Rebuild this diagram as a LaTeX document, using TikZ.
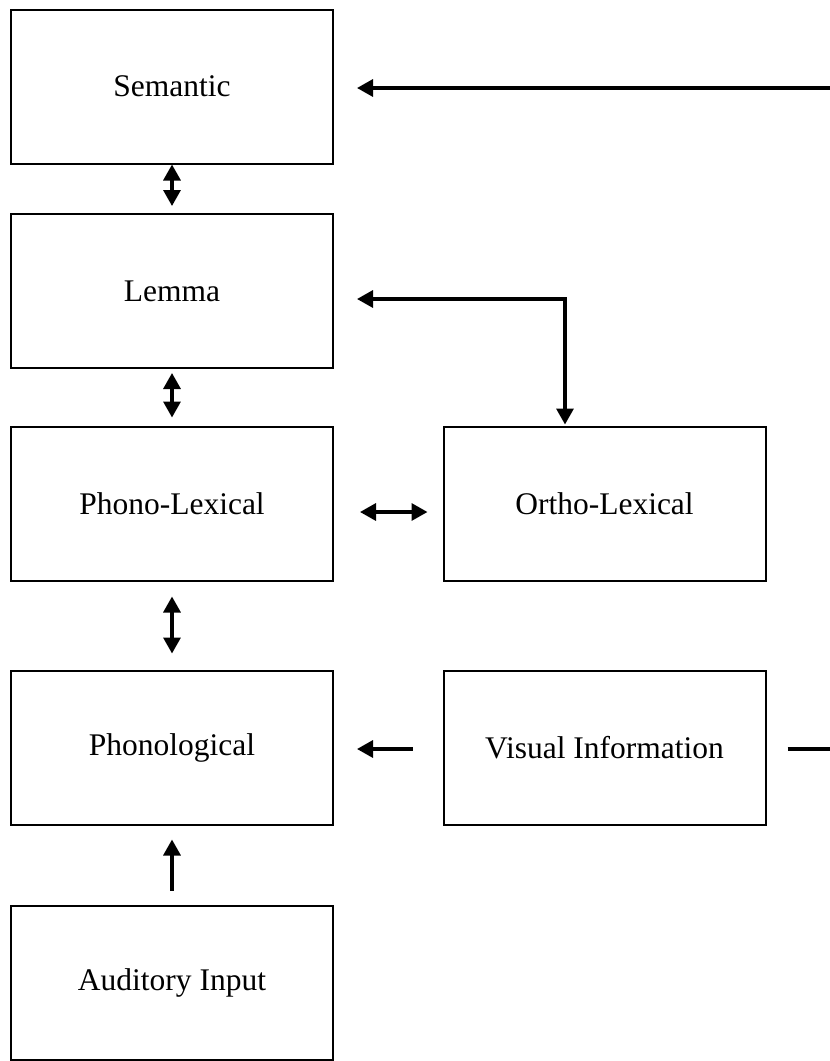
\documentclass[tikz,border=0pt]{standalone}
\usepackage{fontspec}
\setmainfont{Liberation Serif}
\usetikzlibrary{arrows.meta}
\begin{document}
\begin{tikzpicture}[x=1pt,y=-1pt,
  box/.style={draw,line width=2pt,minimum width=322pt,minimum height=154pt,inner sep=0pt,
    font=\fontsize{31.5}{37}\selectfont},
  conn/.style={line width=3.3pt,line join=miter},
  hd/.tip={Triangle[length=16pt,width=17pt]},
  fwd/.style={conn,-hd},
  both/.style={conn,hd-hd}]
\useasboundingbox (0,0) rectangle (830,1061);
\node[box] (sem) at (172,86.5) {Semantic};
\node[box] (lem) at (172,291) {Lemma};
\node[box] (pl) at (172,503.5) {Phono-Lexical};
\node[box] (ph) at (172,747.5) {Phonological};
\node[box] (ai) at (172,982.5) {Auditory Input};
\node[box] (ol) at (604.5,503.5) {Ortho-Lexical};
\node[box] (vi) at (604.5,747.5) {Visual Information};
% edges
\coordinate (semsrc) at (830,88);
\coordinate (visout) at (830,749);
\coordinate (bend) at (565,299);
\draw[fwd,shorten >=23pt] (semsrc) -- (sem.east |- semsrc);
\draw[both,shorten >=7pt] (sem.south) -- (lem.north);
\draw[both,shorten <=4pt,shorten >=8pt] (lem.south) -- (pl.north);
\draw[both,shorten <=15pt,shorten >=16pt] (pl.south) -- (ph.north);
\draw[fwd,shorten <=14pt,shorten >=14pt] (ai.north) -- (ph.south);
\draw[both,shorten <=26pt,shorten >=15pt] ([yshift=-8.5pt]pl.east) -- ([yshift=-8.5pt]ol.west);
\draw[fwd,shorten <=30pt,shorten >=23pt] ([yshift=-1.5pt]vi.west) -- ([yshift=-1.5pt]ph.east);
\draw[conn,shorten <=21pt] ([yshift=-1.5pt]vi.east) -- (visout);
\draw[both,shorten <=23pt,shorten >=1pt] (lem.east |- bend) -- (bend) -- (bend |- ol.north);
\end{tikzpicture}
\end{document}
